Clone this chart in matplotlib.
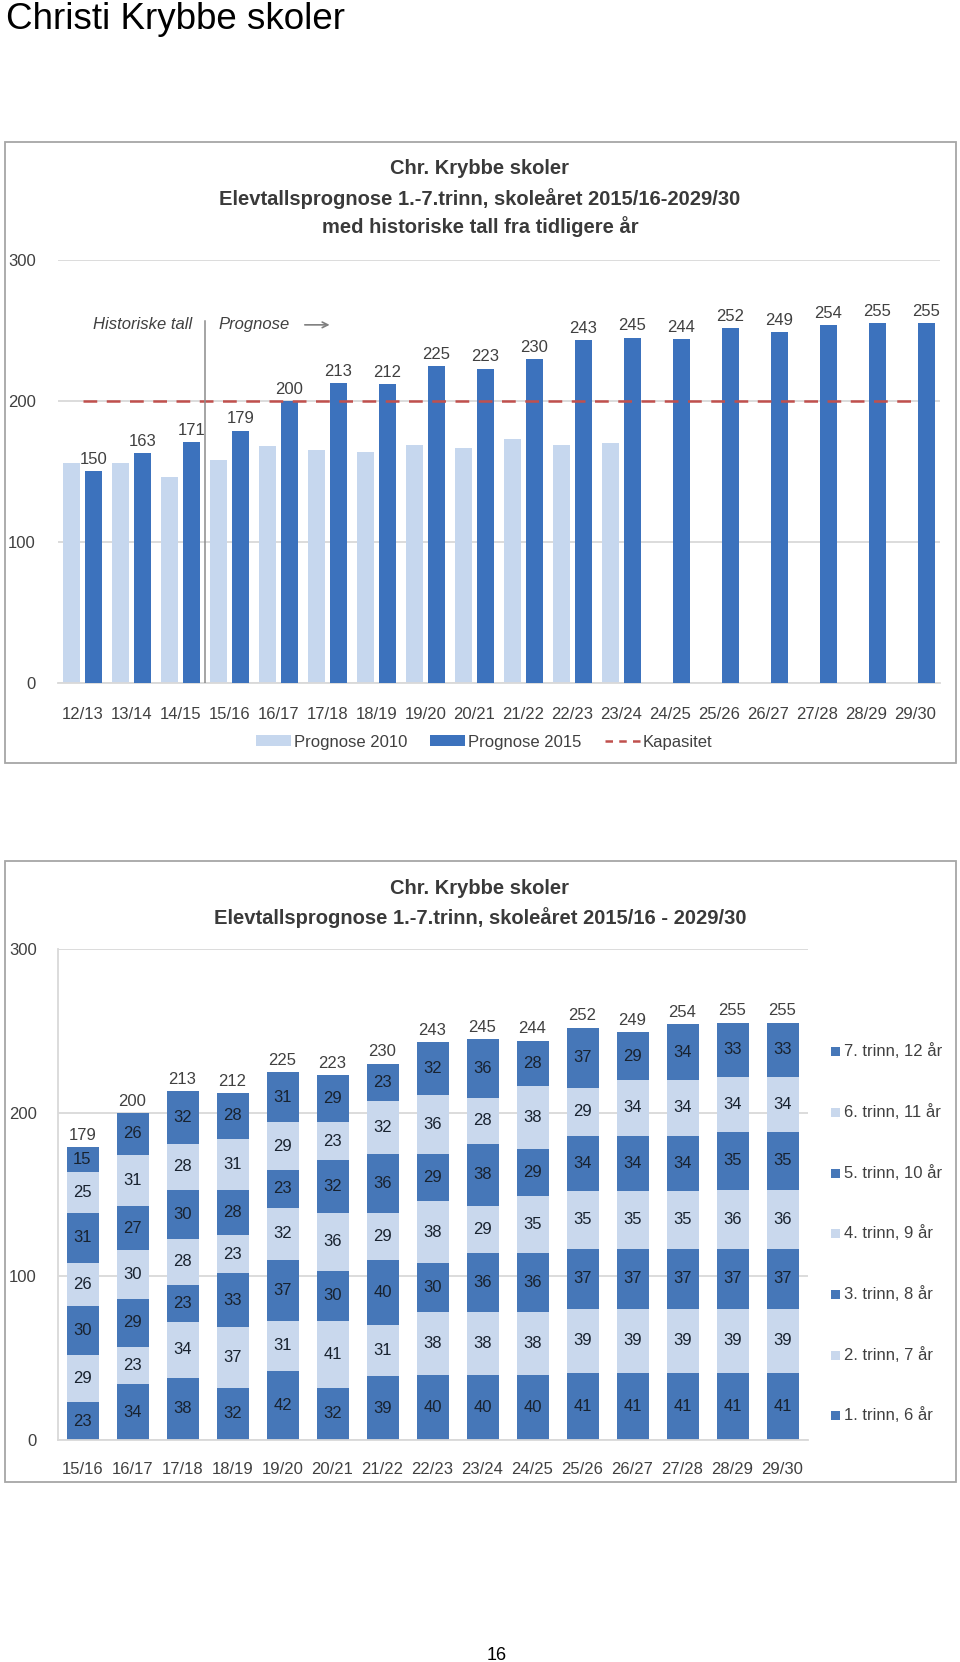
import numpy as np
import matplotlib
matplotlib.use("Agg")
import matplotlib.pyplot as plt
from matplotlib.patches import Rectangle, Patch
from matplotlib.lines import Line2D

plt.rcParams['font.family'] = ['Liberation Sans', 'DejaVu Sans']

# ---------------- data ----------------
years_top = ["12/13", "13/14", "14/15", "15/16", "16/17", "17/18", "18/19", "19/20", "20/21",
             "21/22", "22/23", "23/24", "24/25", "25/26", "26/27", "27/28", "28/29", "29/30"]
prognose_2010 = [156, 156, 146, 158, 168, 165, 164, 169, 167, 173, 169, 170]
prognose_2015 = [150, 163, 171, 179, 200, 213, 212, 225, 223, 230, 243, 245, 244, 252, 249, 254, 255, 255]
kapasitet = [200] * 18

years_bottom = ["15/16", "16/17", "17/18", "18/19", "19/20", "20/21", "21/22", "22/23",
                "23/24", "24/25", "25/26", "26/27", "27/28", "28/29", "29/30"]
trinn_1 = [23, 34, 38, 32, 42, 32, 39, 40, 40, 40, 41, 41, 41, 41, 41]
trinn_2 = [29, 23, 34, 37, 31, 41, 31, 38, 38, 38, 39, 39, 39, 39, 39]
trinn_3 = [30, 29, 23, 33, 37, 30, 40, 30, 36, 36, 37, 37, 37, 37, 37]
trinn_4 = [26, 30, 28, 23, 32, 36, 29, 38, 29, 35, 35, 35, 35, 36, 36]
trinn_5 = [31, 27, 30, 28, 23, 32, 36, 29, 38, 29, 34, 34, 34, 35, 35]
trinn_6 = [25, 31, 28, 31, 29, 23, 32, 36, 28, 38, 29, 34, 34, 34, 34]
trinn_7 = [15, 26, 32, 28, 31, 29, 23, 32, 36, 28, 37, 29, 34, 33, 33]
trinn_labels = ["1. trinn, 6 år", "2. trinn, 7 år", "3. trinn, 8 år", "4. trinn, 9 år",
                "5. trinn, 10 år", "6. trinn, 11 år", "7. trinn, 12 år"]

# ---------------- styling ----------------
W, H = 960, 1662
LIGHT = '#c6d7ee'
DARK = '#3c72bd'
DARK2 = '#4677b8'
LIGHT2 = '#c9d8ed'
RED = '#c0504d'
GRID = '#d9d9d9'
TXT = '#404040'

def fx(px):
    return px / W

def fy(py):
    return 1 - py / H

fig = plt.figure(figsize=(W / 100, H / 100), dpi=100)
fig.patch.set_facecolor('white')

# page title and number
fig.text(fx(6), fy(29), "Christi Krybbe skoler", fontsize=26.5, ha='left', va='baseline', color='black')
fig.text(fx(497), fy(1660), "16", fontsize=13, ha='center', va='baseline', color='black')

# chart frames
for (x0, y0, x1, y1) in [(5, 142, 956, 763), (5, 861, 956, 1482)]:
    fig.patches.append(Rectangle((fx(x0), fy(y1)), (x1 - x0) / W, (y1 - y0) / H,
                                 transform=fig.transFigure, fill=False,
                                 edgecolor='#a6a6a6', lw=1.3))

# ---------------- top chart ----------------
for yy, t in [(168, "Chr. Krybbe skoler"),
              (199, "Elevtallsprognose 1.-7.trinn, skoleåret 2015/16-2029/30"),
              (227, "med historiske tall fra tidligere år")]:
    fig.text(fx(480), fy(yy), t, ha='center', va='center', fontsize=14.5,
             fontweight='bold', color='#3a3a3a')

ax1 = fig.add_axes([fx(58), fy(683), (940 - 58) / W, (683 - 260) / H])
x = np.arange(len(years_top))
w = 0.34
b10 = ax1.bar(x[:len(prognose_2010)] - 0.22, prognose_2010, width=w, color=LIGHT, zorder=2)
b15 = ax1.bar(x + 0.22, prognose_2015, width=w, color=DARK, zorder=3)
ax1.bar_label(b15, padding=3, fontsize=12, color=TXT)
ax1.plot(x, kapasitet, color=RED, lw=1.8, dashes=(5.5, 3.8), zorder=4)

ax1.set_xlim(-0.5, len(years_top) - 0.5)
ax1.set_ylim(0, 300)
ax1.set_yticks([0, 100, 200, 300])
ax1.set_xticks(x)
ax1.set_xticklabels(years_top)
ax1.yaxis.grid(True, color=GRID, lw=1.3, zorder=0)
ax1.set_axisbelow(True)
for s in ['top', 'right', 'left']:
    ax1.spines[s].set_visible(False)
ax1.spines['bottom'].set_color(GRID)
ax1.spines['bottom'].set_linewidth(1.3)
ax1.tick_params(axis='both', length=0, labelsize=12, colors=TXT)
ax1.tick_params(axis='x', pad=17)
ax1.tick_params(axis='y', pad=16)

# historical / forecast separator
ax1.plot([2.5, 2.5], [0, 257], color='#8c8c8c', lw=1.1, zorder=5)
ax1.text(2.24, 254, "Historiske tall", ha='right', va='center', fontsize=12,
         style='italic', color=TXT)
ax1.text(2.77, 254, "Prognose", ha='left', va='center', fontsize=12,
         style='italic', color=TXT)
ax1.annotate('', xy=(5.1, 254), xytext=(4.48, 254),
             arrowprops=dict(arrowstyle='->', color='#7f7f7f', lw=1.2))

handles = [Patch(facecolor=LIGHT, edgecolor='none'),
           Patch(facecolor=DARK, edgecolor='none'),
           Line2D([0], [0], color=RED, lw=1.8, dashes=(3, 2.5))]
fig.legend(handles, ["Prognose 2010", "Prognose 2015", "Kapasitet"],
           loc='center', bbox_to_anchor=(fx(484), fy(742)), ncol=3, frameon=False,
           fontsize=12, handlelength=2.1, handleheight=0.6, handletextpad=0.15,
           columnspacing=1.4, labelcolor=TXT)

# ---------------- bottom chart ----------------
for yy, t in [(888, "Chr. Krybbe skoler"),
              (918, "Elevtallsprognose 1.-7.trinn, skoleåret 2015/16 - 2029/30")]:
    fig.text(fx(480), fy(yy), t, ha='center', va='center', fontsize=14.5,
             fontweight='bold', color='#3a3a3a')

ax2 = fig.add_axes([fx(57.5), fy(1440), (807.5 - 57.5) / W, (1440 - 949) / H])
xb = np.arange(len(years_bottom))
series = [trinn_1, trinn_2, trinn_3, trinn_4, trinn_5, trinn_6, trinn_7]
colors = [DARK2, LIGHT2, DARK2, LIGHT2, DARK2, LIGHT2, DARK2]
bottom = np.zeros(len(years_bottom))
last = None
for vals, c in zip(series, colors):
    bars = ax2.bar(xb, vals, width=0.64, bottom=bottom, color=c, zorder=2)
    ax2.bar_label(bars, label_type='center', fontsize=12, color='#18222f')
    bottom = bottom + np.array(vals)
    last = bars
totals = [int(v) for v in bottom]
ax2.bar_label(last, labels=[str(t) for t in totals], padding=3, fontsize=12, color=TXT)

ax2.set_xlim(-0.5, len(years_bottom) - 0.5)
ax2.set_ylim(0, 300)
ax2.set_yticks([0, 100, 200, 300])
ax2.set_xticks(xb)
ax2.set_xticklabels(years_bottom)
ax2.yaxis.grid(True, color=GRID, lw=1.3, zorder=0)
ax2.set_axisbelow(True)
for s in ['top', 'right']:
    ax2.spines[s].set_visible(False)
for s in ['bottom', 'left']:
    ax2.spines[s].set_color(GRID)
    ax2.spines[s].set_linewidth(1.3)
ax2.tick_params(axis='both', length=0, labelsize=12, colors=TXT)
ax2.tick_params(axis='x', pad=16)
ax2.tick_params(axis='y', pad=15)

# legend on the right (top entry = 7. trinn)
leg_y = [1415, 1355, 1294, 1233, 1173, 1112, 1051]
for lab, c, yy in zip(trinn_labels, colors, leg_y):
    fig.patches.append(Rectangle((fx(831), fy(yy + 4.5)), 9 / W, 9 / H,
                                 transform=fig.transFigure, facecolor=c, edgecolor='none'))
    fig.text(fx(844), fy(yy), lab, ha='left', va='center', fontsize=12, color=TXT)

fig.savefig("out.png", dpi=100)
